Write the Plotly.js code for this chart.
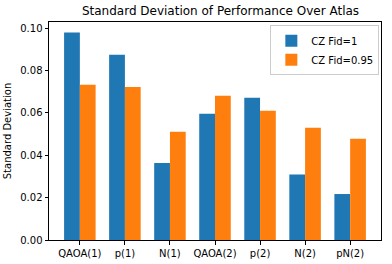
<!DOCTYPE html>
<html><head><meta charset="utf-8">
<script src="https://cdn.plot.ly/plotly-3.0.1.min.js"></script>
<style>html,body{margin:0;padding:0;background:#fff}#c{width:392px;height:264px}</style>
</head><body><div id="c"></div>
<script>
const categories = ["QAOA(1)", "p(1)", "N(1)", "QAOA(2)", "p(2)", "N(2)", "pN(2)"];
const seriesNames = ["CZ Fid=1", "CZ Fid=0.95"];
const fid1 = [0.0979, 0.0875, 0.0364, 0.0596, 0.0671, 0.0309, 0.0217];
const fid095 = [0.0733, 0.0722, 0.0511, 0.0681, 0.0610, 0.0530, 0.0478];
const yTicks = [0, 0.02, 0.04, 0.06, 0.08, 0.10];
const yTickLabels = ["0.00", "0.02", "0.04", "0.06", "0.08", "0.10"];

const font = {family: "DejaVu Sans, sans-serif", size: 10, color: "#000"};
const data = [
  {type: "bar", x: categories, y: fid1, name: seriesNames[0], marker: {color: "#1f77b4"}},
  {type: "bar", x: categories, y: fid095, name: seriesNames[1], marker: {color: "#ff7f0e"}}
];
const layout = {
  width: 392, height: 264,
  margin: {l: 49, r: 11, t: 22, b: 24, pad: 0},
  paper_bgcolor: "#fff", plot_bgcolor: "#fff",
  font: font,
  barmode: "group", bargap: 0.3, bargroupgap: 0,
  title: {text: "Standard Deviation of Performance Over Atlas", font: {family: "DejaVu Sans, sans-serif", size: 12, color: "#000"}, x: 0.5625, xanchor: "center", y: 0.96, yanchor: "middle"},
  xaxis: {type: "category", range: [-0.685, 6.685], showgrid: false, zeroline: false,
    showline: true, linecolor: "#000", linewidth: 1, mirror: true,
    ticks: "outside", ticklen: 3.5, tickcolor: "#000", tickfont: font},
  yaxis: {range: [0, 0.1029], showgrid: false, zeroline: false,
    showline: true, linecolor: "#000", linewidth: 1, mirror: true,
    ticks: "outside", ticklen: 3.5, tickcolor: "#000",
    tickvals: yTicks, ticktext: yTickLabels, tickfont: font,
    title: {text: "Standard Deviation", font: font, standoff: 6}},
  legend: {x: 0.995, y: 0.985, xanchor: "right", yanchor: "top",
    bgcolor: "rgba(255,255,255,0.8)", bordercolor: "#cccccc", borderwidth: 1,
    font: font, tracegroupgap: 0}
};
Plotly.newPlot("c", data, layout, {displayModeBar: false, staticPlot: true});
</script></body></html>
